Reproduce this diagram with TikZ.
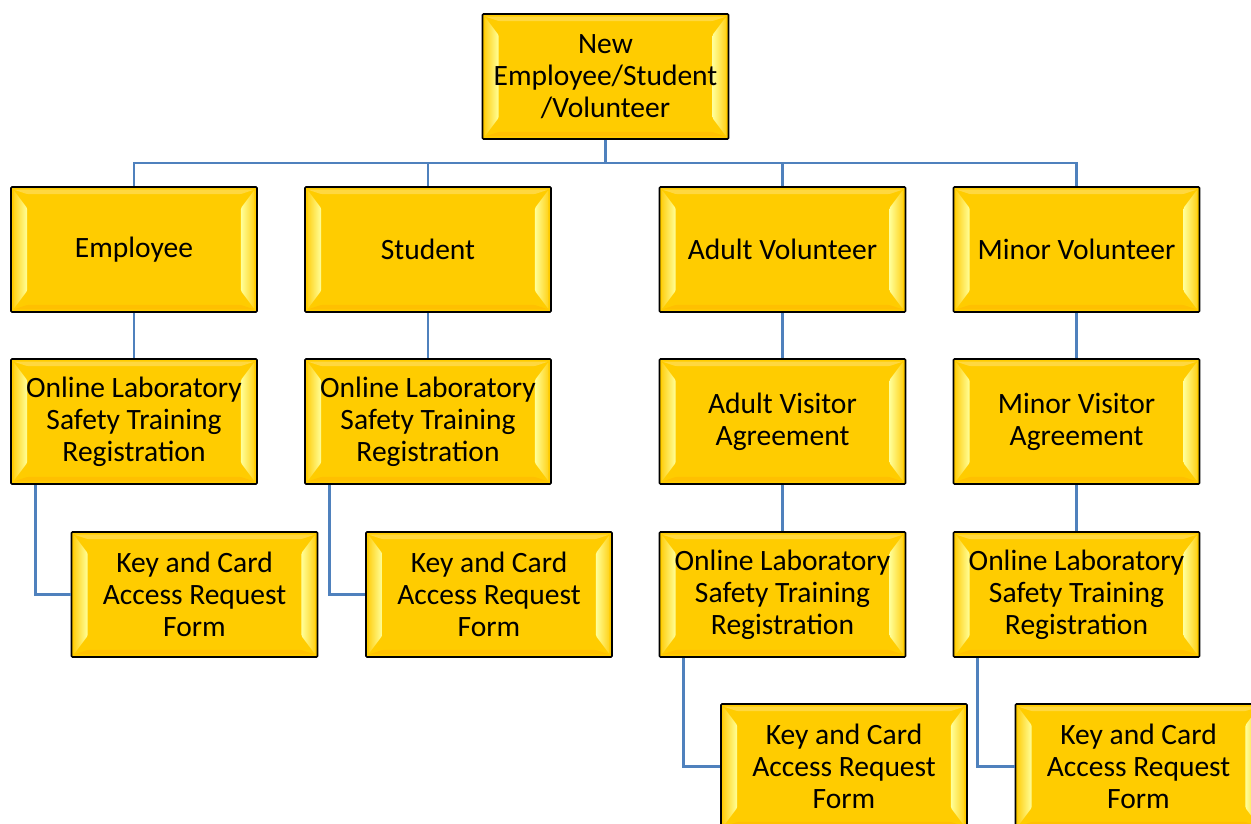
\documentclass[tikz,border=0pt]{standalone}
\usepackage{fontspec}
\setmainfont{Carlito}
\usetikzlibrary{calc}
\definecolor{gold}{HTML}{FFCC00}
\definecolor{bevlight}{HTML}{FFFF99}
\definecolor{bevmid}{HTML}{FFD21A}
\definecolor{conncol}{HTML}{4F81BD}
\tikzset{
  tile/.style={draw=black, line width=0.9pt, fill=gold, rounded corners=0.6pt,
    minimum width=4.92cm, minimum height=2.5cm, inner sep=0pt, align=center,
    font=\fontsize{16.8}{18.2}\selectfont,
    path picture={
      \coordinate (pa) at (path picture bounding box.south west);
      \coordinate (pb) at (path picture bounding box.north east);
      \shade[left color=bevmid, right color=bevlight]
        ($(pa)+(0.05cm,0.06cm)$) -- ($(pa|-pb)+(0.05cm,-0.06cm)$) -- ($(pa|-pb)+(0.32cm,-0.42cm)$) -- ($(pa)+(0.32cm,0.42cm)$) -- cycle;
      \shade[left color=bevlight, right color=bevmid]
        ($(pb|-pa)+(-0.05cm,0.06cm)$) -- ($(pb)+(-0.05cm,-0.06cm)$) -- ($(pb)+(-0.32cm,-0.42cm)$) -- ($(pb|-pa)+(-0.32cm,0.42cm)$) -- cycle;
      \fill[white, opacity=0.25]
        ($(pa|-pb)+(0.05cm,-0.05cm)$) -- ($(pb)+(-0.05cm,-0.05cm)$) -- ($(pb)+(-0.32cm,-0.14cm)$) -- ($(pa|-pb)+(0.32cm,-0.14cm)$) -- cycle;
      \fill[orange!60!gold, opacity=0.25]
        ($(pa)+(0.05cm,0.05cm)$) -- ($(pb|-pa)+(-0.05cm,0.05cm)$) -- ($(pb|-pa)+(-0.32cm,0.14cm)$) -- ($(pa)+(0.32cm,0.14cm)$) -- cycle;
    }},
  conn/.style={draw=conncol, line width=1.6pt}
}
\begin{document}
\begin{tikzpicture}[x=0.02cm, y=-0.02cm]
\useasboundingbox (0,0) rectangle (1251,824);
\clip (0,0) rectangle (1251,824);
% connectors (drawn first, behind boxes)
\coordinate (bus) at (605.5,163);
% nodes
\node[tile] (top) at (605.5,76.5) {New\\Employee/Student\\/Volunteer};
\node[tile] (emp) at (134,249.5) {Employee};
\node[tile] (stu) at (428,249.5) {Student};
\node[tile] (adv) at (782.5,249.5) {Adult Volunteer};
\node[tile] (miv) at (1076.5,249.5) {Minor Volunteer};
\node[tile] (ol1) at (134,421.5) {Online Laboratory\\Safety Training\\Registration};
\node[tile] (ol2) at (428,421.5) {Online Laboratory\\Safety Training\\Registration};
\node[tile] (ava) at (782.5,421.5) {Adult Visitor\\Agreement};
\node[tile] (mva) at (1076.5,421.5) {Minor Visitor\\Agreement};
\node[tile] (key1) at (194.5,594.5) {Key and Card\\Access Request\\Form};
\node[tile] (key2) at (489,594.5) {Key and Card\\Access Request\\Form};
\node[tile] (ol3) at (782.5,594.5) {Online Laboratory\\Safety Training\\Registration};
\node[tile] (ol4) at (1076.5,594.5) {Online Laboratory\\Safety Training\\Registration};
\node[tile] (key3) at (844,766.5) {Key and Card\\Access Request\\Form};
\node[tile] (key4) at (1138.5,766.5) {Key and Card\\Access Request\\Form};
% connectors
\draw[conn] (top.south) -- (bus);
\draw[conn] (bus) -| (emp.north);
\draw[conn] (bus) -| (stu.north);
\draw[conn] (bus) -| (adv.north);
\draw[conn] (bus) -| (miv.north);
\draw[conn] (emp.south) -- (ol1.north);
\draw[conn] (stu.south) -- (ol2.north);
\draw[conn] (adv.south) -- (ava.north);
\draw[conn] (miv.south) -- (mva.north);
\draw[conn] (ava.south) -- (ol3.north);
\draw[conn] (mva.south) -- (ol4.north);
\draw[conn] ([xshift=0.5cm]ol1.south west) |- (key1.west);
\draw[conn] ([xshift=0.5cm]ol2.south west) |- (key2.west);
\draw[conn] ([xshift=0.5cm]ol3.south west) |- (key3.west);
\draw[conn] ([xshift=0.5cm]ol4.south west) |- (key4.west);
\end{tikzpicture}
\end{document}
